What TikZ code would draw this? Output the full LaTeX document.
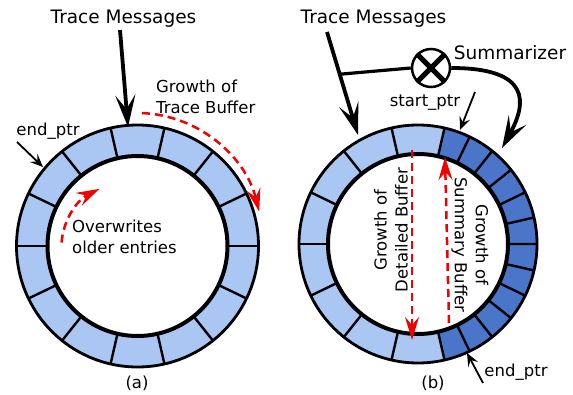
\documentclass[tikz,border=0pt]{standalone}
\usepackage{fontspec}
\setmainfont{DejaVu Sans}
\usepackage{xcolor}
\usetikzlibrary{arrows.meta,calc}
\definecolor{cellA}{RGB}{170,198,242}
\definecolor{cellB}{RGB}{74,117,201}
\definecolor{growred}{RGB}{240,0,0}

\tikzset{
  lbl/.style={inner sep=1pt,font=\fontsize{16.5}{21}\selectfont},
  bigtxt/.style={inner sep=1pt,font=\fontsize{18.5}{22}\selectfont},
  msgarrow/.style={line width=3.8pt,-{Stealth[length=32pt,width=20pt,inset=14pt]}},
  ptrarrow/.style={line width=1.8pt,-{Stealth[length=13pt,width=11pt,inset=5pt]}},
  growarrow/.style={growred,line width=2.5pt,dash pattern=on 8pt off 5pt,-{Stealth[length=23pt,width=14pt,inset=8pt]}},
  divider/.style={line width=2.4pt},
}

\begin{document}
\begin{tikzpicture}[x=1pt,y=1pt]
            \useasboundingbox (0,0) rectangle (573,394);

            % Define the left ring (14 cells)
            \coordinate (cA) at (137.5,148);
            \fill[cellA] (cA) circle (121pt);
            \fill[white] (cA) circle (90pt);
            \foreach \k in {0,...,13}
                \draw[divider,shift={(cA)}] (\k*360/14:90) -- (\k*360/14:121);
            \draw[line width=2.8pt] (cA) circle (121pt);
            \draw[line width=4pt] (cA) circle (90pt);

            % Define the right ring (detailed and summary cells)
            \coordinate (cB) at (418,150);
            \fill[cellA] (cB) circle (119pt);
            \fill[cellB] (cB) -- ++(-77.14:119pt) arc[start angle=-77.14,end angle=77.14,radius=119pt] -- cycle;
            \fill[white] (cB) circle (90pt);
            \foreach \k in {3,...,11}
                \draw[divider,shift={(cB)}] (\k*360/14:90) -- (\k*360/14:119);
            \foreach \k in {1,...,11}
                \draw[divider,shift={(cB)}] (-77.14+\k*12.857:90) -- (-77.14+\k*12.857:119);
            \draw[line width=2.8pt] (cB) circle (119pt);
            \draw[line width=4pt] (cB) circle (90pt);

            % Labels of the left ring
            \node[bigtxt] (msgA) at (123.5,375) {Trace Messages};
            \node[lbl,align=left,anchor=west] (growA) at (155,297) {Growth of\\Trace Buffer};
            \node[lbl,align=left,anchor=west] (overA) at (71,157) {Overwrites\\older entries};
            \node[lbl] (endA) at (48,263) {end\_ptr};
            \node[lbl] (labA) at (137,11) {(a)};

            % Labels of the right ring
            \node[bigtxt] (msgB) at (373.5,375) {Trace Messages};
            \node[bigtxt] (sumlbl) at (510,341) {Summarizer};
            \node[lbl] (startB) at (425,291) {start\_ptr};
            \node[lbl] (endB) at (516,22) {end\_ptr};
            \node[lbl,rotate=90,align=center] (detB) at (391,164) {Growth of\\Detailed Buffer};
            \node[lbl,rotate=-90,align=center] (sumB) at (470,149) {Growth of\\Summary Buffer};
            \node[lbl] (labB) at (433,11) {(b)};

            % Ends of the arrows
            \coordinate (srcA) at (120,364);
            \coordinate (tipA) at (128,267);
            \coordinate (srcB) at (327,362);
            \coordinate (tipB) at (358,259);
            \coordinate (join) at ($(srcB)!0.41!(tipB)$);
            \coordinate (tipS) at (502,246);
            \coordinate (srcE) at (17,252);
            \coordinate (tipE) at (43,227);
            \coordinate (srcP) at (475,302);
            \coordinate (tipP) at (460,264);
            \coordinate (srcF) at (483,11);
            \coordinate (tipF) at (467,41);

            % Trace messages into the buffers
            \draw[msgarrow] (srcA) -- (tipA);
            \draw[msgarrow] (srcB) -- (tipB);

            % Summarizer
            \node[circle,draw,line width=2.5pt,minimum size=38pt,inner sep=0pt,fill=white] (sum) at (431,326) {};
            \draw[line width=5pt] (sum.45) -- (sum.225) (sum.135) -- (sum.315);
            \draw[line width=3.2pt] (join) -- (sum.west);
            \draw[msgarrow] (sum.east) .. controls +(80,0) and +(25,45) .. (tipS);

            % Pointers
            \draw[ptrarrow] (srcE) -- (tipE);
            \draw[ptrarrow] (srcP) -- (tipP);
            \draw[ptrarrow] (srcF) -- (tipF);

            % Growth directions
            \draw[growarrow] ($(cA)+(88:126pt and 133pt)$) arc[start angle=88,end angle=15,x radius=126pt,y radius=133pt];
            \draw[growarrow] ($(cA)+(177:76pt and 66pt)$) arc[start angle=177,end angle=120,x radius=76pt,y radius=66pt];
            \coordinate (detS) at (412,244);
            \coordinate (detE) at (412,54);
            \coordinate (sumS) at (449,71);
            \coordinate (sumE) at (445,237);
            \draw[growarrow] (detS) -- (detE);
            \draw[growarrow] (sumS) -- (sumE);

\end{tikzpicture}
\end{document}
